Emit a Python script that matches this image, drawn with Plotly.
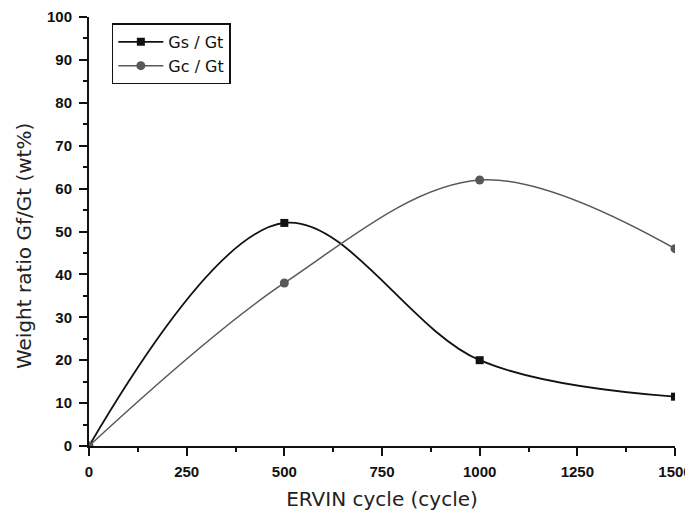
import plotly.graph_objects as go

cycles = [0, 500, 1000, 1500]
gs_gt = [0, 52, 20, 11.5]
gc_gt = [0, 38, 62, 46]
x_ticks = [0, 250, 500, 750, 1000, 1250, 1500]
y_ticks = list(range(0, 101, 10))

fig = go.Figure()
fig.add_trace(go.Scatter(
    x=cycles, y=gs_gt, name="Gs / Gt", mode="lines+markers",
    line=dict(color="#111111", width=1.8, shape="spline", smoothing=1.0),
    marker=dict(symbol="square", size=8, color="#111111"),
))
fig.add_trace(go.Scatter(
    x=cycles, y=gc_gt, name="Gc / Gt", mode="lines+markers",
    line=dict(color="#585858", width=1.5, shape="spline", smoothing=1.0),
    marker=dict(symbol="circle", size=9, color="#585858"),
))

tick_font = dict(family="Liberation Sans, Arial, sans-serif", size=15, color="#111111", weight="bold")
title_font = dict(family="DejaVu Sans, sans-serif", size=20, color="#222222")
# page body adds an 8px offset; compensate in size and margins
fig.update_layout(
    width=685, height=506,
    margin=dict(l=81, r=18, t=9, b=68),
    plot_bgcolor="white", paper_bgcolor="white",
    font=dict(family="Liberation Sans, Arial, sans-serif", size=14, color="#111111"),
    showlegend=True,
    legend=dict(x=0.039, y=0.985, xanchor="left", yanchor="top",
                bordercolor="#111111", borderwidth=1.5, bgcolor="white",
                font=dict(family="DejaVu Sans, sans-serif", size=16, color="#111111"),
                tracegroupgap=0, itemwidth=45),
    xaxis=dict(
        range=[0, 1500], tickvals=x_ticks, ticktext=[str(v) for v in x_ticks],
        showline=True, linecolor="#111111", linewidth=2,
        ticks="outside", ticklen=8, tickwidth=2, tickcolor="#111111",
        ticklabelstandoff=3, ticklabeloverflow="allow",
        minor=dict(ticks="outside", ticklen=4, tickwidth=1.5, tickcolor="#111111", dtick=125),
        showgrid=False, zeroline=False, automargin=False,
        tickfont=tick_font,
        title=dict(text="ERVIN cycle (cycle)", font=title_font, standoff=13),
    ),
    yaxis=dict(
        range=[0, 100], tickvals=y_ticks, ticktext=[str(v) for v in y_ticks],
        showline=True, linecolor="#111111", linewidth=2,
        ticks="outside", ticklen=8, tickwidth=2, tickcolor="#111111",
        ticklabelstandoff=4, ticklabeloverflow="allow",
        minor=dict(ticks="outside", ticklen=4, tickwidth=1.5, tickcolor="#111111", dtick=5),
        showgrid=False, zeroline=False, automargin=False,
        tickfont=tick_font,
    ),
    annotations=[dict(
        text="Weight ratio Gf/Gt (wt%)", textangle=-90,
        xref="paper", yref="paper", x=-0.111, y=0.466,
        xanchor="center", yanchor="middle", showarrow=False, font=title_font,
    )],
)
fig.write_html("out.html")
